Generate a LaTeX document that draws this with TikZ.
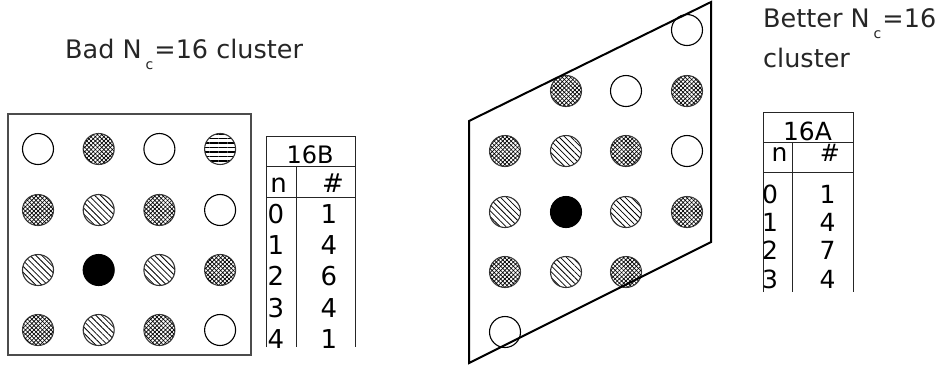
\documentclass[tikz,border=0pt]{standalone}
\usepackage{fontspec}
\setmainfont{DejaVu Sans}
\usetikzlibrary{patterns.meta}
\newcommand{\subc}{\kern4pt{\fontsize{14}{14}\selectfont\raisebox{-11pt}{c}}\kern1pt}
\begin{document}
\begin{tikzpicture}[x=1pt,y=-1pt,
  site/.style={circle,minimum size=31pt,inner sep=0pt,draw=black,line width=1.1pt},
  E/.style={site,fill=white},
  B/.style={site,fill=black},
  D/.style={site,draw=black!80,pattern={Lines[angle=-45,distance=4.2pt,line width=0.8pt]}},
  H/.style={site,draw=black!80,pattern={Lines[angle=0,distance=4.5pt,line width=1.1pt]}},
  X/.style={site,draw=black!75,fill=black!25,pattern={Lines[angle=45,distance=3pt,line width=0.7pt]},
            postaction={pattern={Lines[angle=-45,distance=3pt,line width=0.7pt]}}},
  title/.style={anchor=base west,inner sep=0pt,text=black!85,font=\fontsize{25.5}{30}\selectfont},
  tab/.style={draw=black!85,line width=0.9pt},
  cellL/.style={anchor=base,inner sep=0pt,font=\fontsize{26}{26}\selectfont},
  cellR/.style={anchor=base,inner sep=0pt,font=\fontsize{25}{25}\selectfont}
]
\useasboundingbox (0,0) rectangle (943,368);
% titles
\node[title] (tl) at (65,58) {Bad N\subc=16 cluster};
\node[title] (tr1) at (763,27) {Better N\subc=16};
\node[title] (tr2) at (763,67) {cluster};
% left cluster box
\draw[draw=black!70,line width=1.3pt] (8,114) rectangle (251,355);
% left grid
\foreach \t [count=\i] in {E,X,E,H}{\node[\t] (a1\i) at ({38+60.7*(\i-1)},149) {};}
\foreach \t [count=\i] in {X,D,X,E}{\node[\t] (a2\i) at ({38+60.7*(\i-1)},210) {};}
\foreach \t [count=\i] in {D,B,D,X}{\node[\t] (a3\i) at ({38+60.7*(\i-1)},270) {};}
\foreach \t [count=\i] in {X,D,X,E}{\node[\t] (a4\i) at ({38+60.7*(\i-1)},330) {};}
% right grid
\node[E] (b14) at (687,30) {};
\node[X] (b22) at (566,91) {};
\node[E] (b23) at (626,91) {};
\node[X] (b24) at (687,91) {};
\node[X] (b31) at (505,151) {};
\node[D] (b32) at (566,151) {};
\node[X] (b33) at (626,151) {};
\node[E] (b34) at (687,151) {};
\node[D] (b41) at (505,212) {};
\node[B] (b42) at (566,212) {};
\node[D] (b43) at (626,212) {};
\node[X] (b44) at (687,212) {};
\node[X] (b51) at (505,272) {};
\node[D] (b52) at (566,272) {};
\node[X] (b53) at (626,272) {};
\node[E] (b61) at (505,332) {};
% parallelogram
\draw[line width=2pt,line join=miter] (469,121) -- (711,2) -- (711,242) -- (469,363) -- cycle;
% left table 16B
\draw[tab] (266,347) -- (266,136) -- (355,136) -- (355,347);
\draw[tab] (266,166) -- (355,166);
\draw[tab] (266,197) -- (355,197);
\draw[tab] (296,166) -- (296,347);
\node[anchor=base,inner sep=0pt,font=\fontsize{24}{24}\selectfont] (tB) at (310,163) {16B};
\node[cellL] (hBn) at (278.5,192) {n};
\node[cellL] (hBh) at (333,192) {\#};
\begin{scope}
\clip (260,198) rectangle (360,347);
\foreach \n/\v/\y [count=\k] in {0/1/223,1/4/254,2/6/285,3/4/317,4/1/348}{
  \node[cellL] (Bn\k) at (276,\y) {\n};
  \node[cellL] (Bv\k) at (329,\y) {\v};
}
\end{scope}
% right table 16A
\draw[tab] (763,292) -- (763,112) -- (853,112) -- (853,292);
\draw[tab] (763,142) -- (853,142);
\draw[tab] (763,172) -- (853,172);
\draw[tab] (792,142) -- (792,292);
\node[cellR] (tA) at (807.5,140) {16A};
\node[cellR] (hAn) at (779.5,161) {n};
\node[cellR,font=\fontsize{24}{24}\selectfont] (hAh) at (830,161) {\#};
\begin{scope}
\clip (757,173) rectangle (860,292);
\foreach \n/\v/\y [count=\k] in {0/1/203,1/4/231,2/7/259,3/4/288}{
  \node[cellR] (An\k) at (770,\y) {\n};
  \node[cellR] (Av\k) at (827.5,\y) {\v};
}
\end{scope}
\end{tikzpicture}
\end{document}
